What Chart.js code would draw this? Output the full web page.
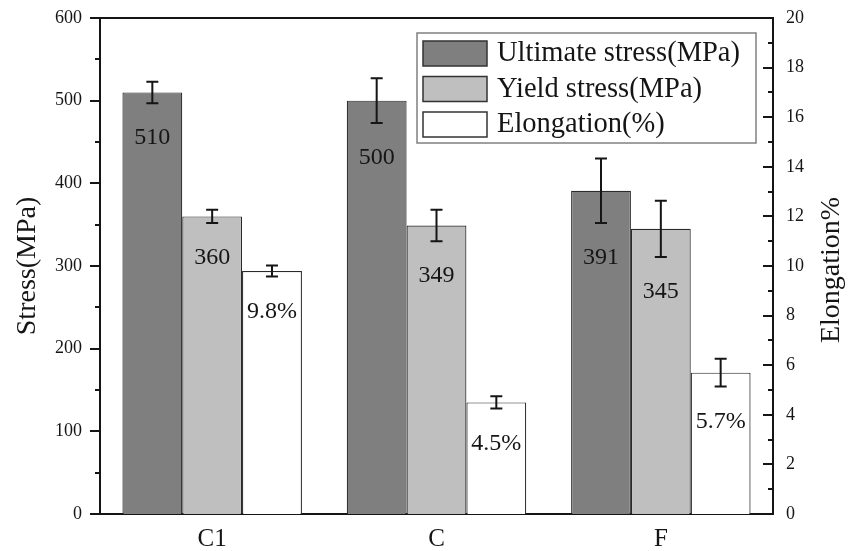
<!DOCTYPE html>
<html>
<head>
<meta charset="utf-8">
<script src="https://cdn.jsdelivr.net/npm/chart.js@4/dist/chart.umd.min.js"></script>
<style>
  html, body { margin: 0; padding: 0; background: #fff; }
  #wrap { width: 857px; height: 551px; }
</style>
</head>
<body>
<div id="wrap"><canvas id="c" width="857" height="551"></canvas></div>
<script>
// Tensile properties per sample
const categories = ['C1', 'C', 'F'];
const ultimateStress = [510, 500, 391];     // MPa
const ultimateErr = [13, 27, 39];
const yieldStress = [360, 349, 345];        // MPa
const yieldErr = [8, 19, 34];
const elongation = [9.8, 4.5, 5.7];         // %
const elongationErr = [0.22, 0.25, 0.56];
const stressTicks = [0, 100, 200, 300, 400, 500, 600];
const elongTicks = [0, 2, 4, 6, 8, 10, 12, 14, 16, 18, 20];

const SERIF = "'Liberation Serif', 'Times New Roman', serif";
const INK = '#151515';

const errors = [ultimateErr, yieldErr, elongationErr];
const labelFmt = [v => String(v), v => String(v), v => v + '%'];

// Error bars, value labels, minor/major tick marks, frame, right title and legend
const decorations = {
  id: 'decorations',
  afterDatasetsDraw(chart) {
    const ctx = chart.ctx;
    const area = chart.chartArea;
    ctx.save();

    // error bars + value labels
    chart.data.datasets.forEach((ds, di) => {
      const meta = chart.getDatasetMeta(di);
      const scale = chart.scales[ds.yAxisID];
      meta.data.forEach((bar, i) => {
        const v = ds.data[i];
        const e = errors[di][i];
        const x = bar.x;
        const yHi = scale.getPixelForValue(v + e);
        const yLo = scale.getPixelForValue(v - e);
        ctx.strokeStyle = INK;
        ctx.lineWidth = 2;
        ctx.beginPath();
        ctx.moveTo(x, yHi); ctx.lineTo(x, yLo);
        ctx.moveTo(x - 6, yHi); ctx.lineTo(x + 6, yHi);
        ctx.moveTo(x - 6, yLo); ctx.lineTo(x + 6, yLo);
        ctx.stroke();
        ctx.fillStyle = INK;
        ctx.font = '24px ' + SERIF;
        ctx.textAlign = 'center';
        ctx.textBaseline = 'middle';
        ctx.fillText(labelFmt[di](v), x, yLo + 35);
      });
    });

    // top frame line
    ctx.strokeStyle = INK;
    ctx.lineWidth = 2;
    ctx.beginPath();
    ctx.moveTo(area.left - 1, area.top);
    ctx.lineTo(area.right + 1, area.top);
    ctx.stroke();

    // left axis ticks (outward)
    const ys = chart.scales.y;
    ctx.lineWidth = 2;
    ctx.beginPath();
    for (let v = ys.min; v <= ys.max; v += 50) {
      const len = v % 100 === 0 ? 10 : 5;
      const py = Math.round(ys.getPixelForValue(v));
      ctx.moveTo(area.left - len, py);
      ctx.lineTo(area.left, py);
    }
    // right axis ticks (inward)
    const y1 = chart.scales.y1;
    for (let v = y1.min; v <= y1.max; v += 1) {
      const len = v % 2 === 0 ? 10 : 5;
      const py = Math.round(y1.getPixelForValue(v));
      ctx.moveTo(area.right - len, py);
      ctx.lineTo(area.right, py);
    }
    ctx.stroke();

    // right axis title, reading bottom to top
    ctx.save();
    ctx.translate(y1.right - 25, (area.top + area.bottom) / 2 + 4);
    ctx.rotate(-Math.PI / 2);
    ctx.fillStyle = INK;
    ctx.font = '28px ' + SERIF;
    ctx.textAlign = 'center';
    ctx.textBaseline = 'middle';
    ctx.fillText('Elongation%', 0, 0);
    ctx.restore();

    // legend box
    const lx = area.right - 356, ly = area.top + 15, lw = 339, lh = 110;
    ctx.fillStyle = '#fff';
    ctx.fillRect(lx, ly, lw, lh);
    ctx.strokeStyle = '#808080';
    ctx.lineWidth = 1.5;
    ctx.strokeRect(lx, ly, lw, lh);
    chart.data.datasets.forEach((ds, di) => {
      const sy = ly + 8 + di * 35.5;
      ctx.fillStyle = ds.backgroundColor;
      ctx.fillRect(lx + 6, sy, 64, 25);
      ctx.strokeStyle = '#333';
      ctx.lineWidth = 1.5;
      ctx.strokeRect(lx + 6, sy, 64, 25);
      ctx.fillStyle = INK;
      ctx.font = '28.5px ' + SERIF;
      ctx.textAlign = 'left';
      ctx.textBaseline = 'middle';
      ctx.fillText(ds.label, lx + 80, sy + 13);
    });

    ctx.restore();
  }
};

// fixed scale box sizes so the plot area lands where intended
function fixBox(w) {
  return s => { s.width = w; s.paddingTop = 0; s.paddingBottom = 0; };
}

new Chart(document.getElementById('c'), {
  type: 'bar',
  data: {
    labels: categories,
    datasets: [
      { label: 'Ultimate stress(MPa)', data: ultimateStress, yAxisID: 'y',
        backgroundColor: '#7f7f7f', borderColor: '#2a2a2a', borderWidth: 1.2 },
      { label: 'Yield stress(MPa)', data: yieldStress, yAxisID: 'y',
        backgroundColor: '#bfbfbf', borderColor: '#2a2a2a', borderWidth: 1.2 },
      { label: 'Elongation(%)', data: elongation, yAxisID: 'y1',
        backgroundColor: '#ffffff', borderColor: '#2a2a2a', borderWidth: 1.2 }
    ]
  },
  options: {
    responsive: false,
    animation: false,
    devicePixelRatio: 1,
    categoryPercentage: 0.8,
    barPercentage: 1.0,
    layout: { padding: { top: 18, left: 0, right: 0, bottom: 0 } },
    plugins: { legend: { display: false }, tooltip: { enabled: false } },
    scales: {
      x: {
        grid: { display: false, drawTicks: false },
        border: { display: true, color: INK, width: 2 },
        ticks: { color: INK, font: { family: SERIF, size: 25 }, padding: 10 },
        afterFit(s) { s.height = 37; s.paddingLeft = 0; s.paddingRight = 0; }
      },
      y: {
        position: 'left',
        min: 0, max: 600,
        grid: { display: false, drawTicks: false },
        border: { display: true, color: INK, width: 2 },
        afterBuildTicks(s) { s.ticks = stressTicks.map(v => ({ value: v })); },
        ticks: { color: INK, font: { family: SERIF, size: 18 }, padding: 18 },
        title: { display: true, text: 'Stress(MPa)', color: INK,
                 font: { family: SERIF, size: 28 }, padding: { top: 11, bottom: 0 } },
        afterFit: fixBox(100)
      },
      y1: {
        position: 'right',
        min: 0, max: 20,
        grid: { display: false, drawTicks: false },
        border: { display: true, color: INK, width: 2 },
        afterBuildTicks(s) { s.ticks = elongTicks.map(v => ({ value: v })); },
        ticks: { color: INK, font: { family: SERIF, size: 18 }, padding: 13 },
        title: { display: false },
        afterFit: fixBox(84)
      }
    }
  },
  plugins: [decorations]
});
</script>
</body>
</html>
